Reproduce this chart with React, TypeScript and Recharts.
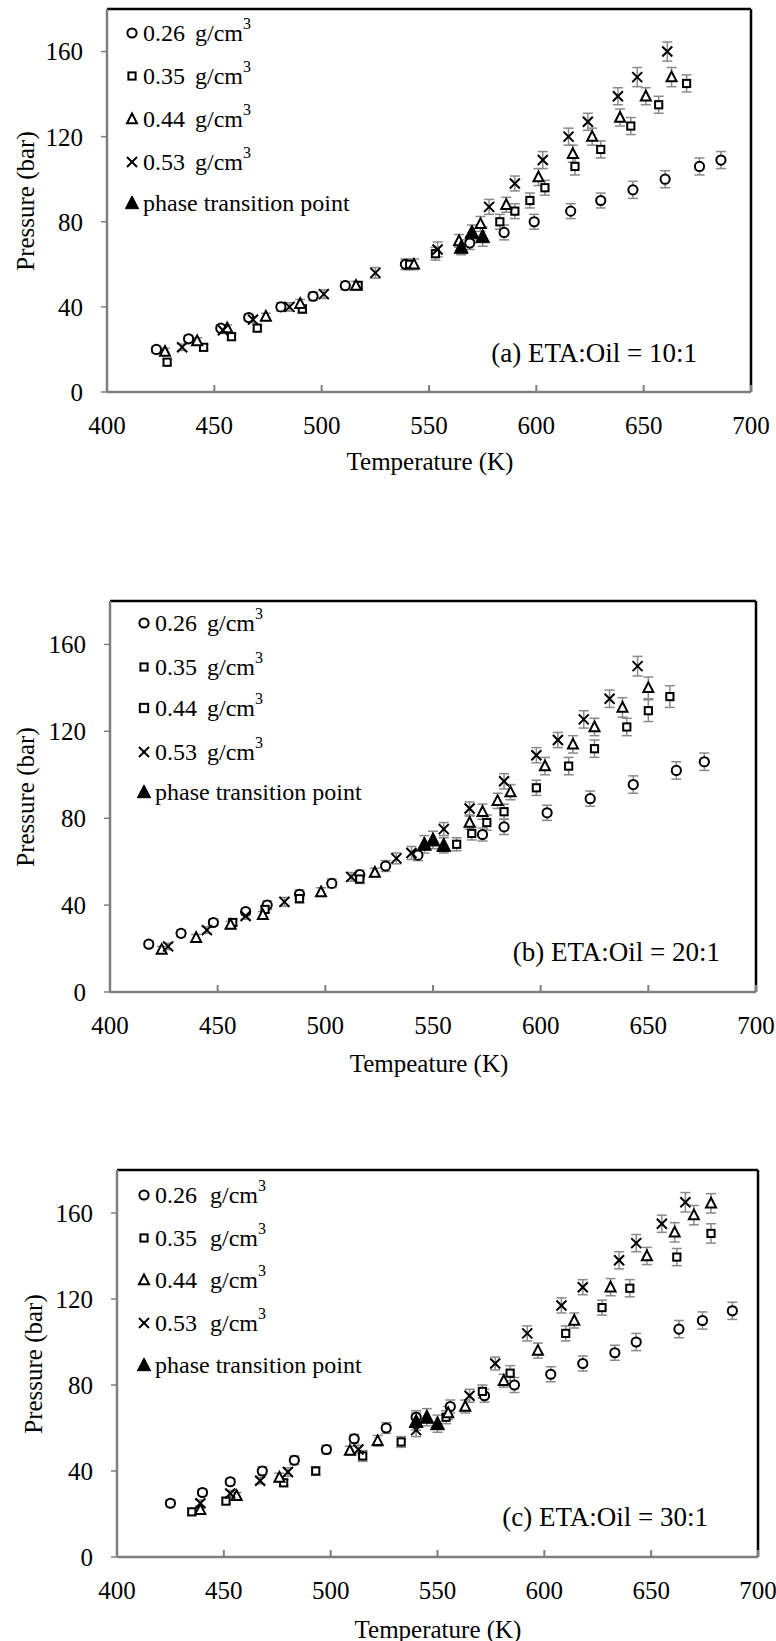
import { ScatterChart, Scatter, XAxis, YAxis, ErrorBar, ReferenceLine } from 'recharts';

const FONT = 'Liberation Serif';
const AXIS_GRAY = '#7f7f7f';
const ERR_GRAY = '#8a8a8a';

const X_TICKS = [400, 450, 500, 550, 600, 650, 700];
const Y_TICKS = [0, 40, 80, 120, 160];

const DENSITIES = ['0.26', '0.35', '0.44', '0.53'];

// [temperature K, pressure bar, error bar]
type Pt = [number, number, number];

// (a) ETA:Oil = 10:1
const A_026: Pt[] = [[423, 20, 1.5], [438, 25, 1.5], [453, 30, 1.5], [466, 35, 1.5], [481, 40, 2], [496, 45, 2], [511, 50, 2], [539, 60, 2.5], [569, 70, 3], [585, 75, 3.5], [599, 80, 3.5], [616, 85, 3.5], [630, 90, 3.5], [645, 95, 4], [660, 100, 4], [676, 106, 4], [686, 109, 4]];
const A_035: Pt[] = [[428, 14, 1.5], [445, 21, 1.5], [458, 26, 1.5], [470, 30, 1.5], [491, 39, 2], [517, 50, 2], [541, 60, 2.5], [553, 65, 3], [583, 80, 3.5], [590, 85, 3.5], [597, 90, 3.5], [604, 96, 3.5], [618, 106, 4], [630, 114, 4], [644, 125, 4], [657, 135, 4], [670, 145, 4]];
const A_044: Pt[] = [[427, 19, 1.5], [442, 24, 1.5], [456, 30, 1.5], [474, 35.5, 1.5], [490, 41.5, 2], [516, 50, 2], [543, 60, 2.5], [564, 71, 3], [574, 79, 3.5], [586, 88, 3.5], [601, 101, 4], [617, 112, 4], [626, 120, 4], [639, 129, 4], [651, 139, 4], [663, 148, 4.5]];
const A_053: Pt[] = [[435, 21, 1.5], [454, 29, 1.5], [468, 34, 1.5], [485, 40, 2], [501, 46, 2], [525, 56, 2.5], [554, 67, 3.5], [578, 87, 3.5], [590, 98, 3.5], [603, 109, 4], [615, 120, 4], [624, 127, 4], [638, 139, 4], [647, 148, 4.5], [661, 160, 4.5]];
const A_PT: Pt[] = [[565, 68, 3.5], [570, 75, 3.5], [575, 73, 4.5]];

// (b) ETA:Oil = 20:1
const B_026: Pt[] = [[418, 22, 1.5], [433, 27, 1.5], [448, 32, 1.5], [463, 37, 1.5], [473, 40, 2], [488, 45, 2], [503, 50, 2], [516, 54, 2], [528, 58, 2.5], [543, 63, 2.5], [573, 72.5, 3], [583, 76, 3.5], [603, 82.5, 3.5], [623, 89, 3.5], [643, 95.5, 4], [663, 102, 4], [676, 106, 4]];
const B_035: Pt[] = [[457, 32, 1.5], [472, 38, 1.5], [488, 43, 2], [516, 52, 2], [561, 68, 3], [568, 73, 3], [575, 78, 3.5], [583, 83, 3.5], [598, 94, 3.5], [613, 104, 4], [625, 112, 4], [640, 122, 4], [650, 129.5, 5], [660, 136, 5]];
const B_044: Pt[] = [[424, 19.5, 1.5], [440, 25, 1.5], [456, 31, 1.5], [471, 35.5, 1.5], [498, 46, 2], [523, 55, 2], [567, 78, 3], [573, 83, 3.5], [580, 88, 3.5], [586, 92, 3.5], [602, 104, 4], [615, 114, 4], [625, 122, 4], [638, 131, 4.5], [650, 140, 5]];
const B_053: Pt[] = [[427, 21, 1.5], [445, 28.5, 1.5], [463, 35, 1.5], [481, 41.5, 2], [512, 53, 2], [533, 61.5, 2.5], [540, 64, 3], [555, 75, 3], [567, 84.5, 3], [583, 97, 3.5], [598, 109, 3.5], [608, 116, 3.5], [620, 125.5, 4], [632, 135, 4], [645, 150, 4.5]];
const B_PT: Pt[] = [[546, 68, 4], [550, 70, 4], [555, 67.5, 3.5]];

// (c) ETA:Oil = 30:1
const C_026: Pt[] = [[425, 25, 1.5], [440, 30, 1.5], [453, 35, 1.5], [468, 40, 2], [483, 45, 2], [498, 50, 2], [511, 55, 2], [526, 60, 2.5], [540, 65, 3], [556, 70, 3], [572, 75, 3], [586, 80, 3.5], [603, 85, 3.5], [618, 90, 3.5], [633, 95, 3.5], [643, 100, 4], [663, 106, 4], [674, 110, 4], [688, 114.5, 4]];
const C_035: Pt[] = [[435, 21, 1.5], [451, 26, 1.5], [478, 34.5, 1.5], [493, 40, 2], [515, 47, 2.5], [533, 53.5, 2.5], [554, 65, 3], [571, 77, 3], [584, 85.5, 3.5], [610, 104, 3.5], [627, 116, 3.5], [640, 125, 4], [662, 139.5, 4], [678, 150.5, 4.5]];
const C_044: Pt[] = [[439, 22, 1.5], [456, 28.5, 1.5], [476, 37, 2], [509, 49.5, 2], [522, 54, 2.5], [555, 67, 3], [563, 70, 3], [581, 82, 3], [597, 96, 3.5], [614, 110, 3.5], [631, 125.5, 4], [648, 140, 4], [661, 151, 4.5], [670, 159, 4.5], [678, 164.5, 4.5]];
const C_053: Pt[] = [[439, 25, 1.5], [453, 29.5, 1.5], [467, 35.5, 1.5], [480, 39.5, 2], [513, 50, 2], [540, 59, 3], [565, 75, 3], [577, 90, 3], [592, 104, 3.5], [608, 117, 3.5], [618, 125.5, 3.5], [635, 138, 4], [643, 146, 4], [655, 155, 4], [666, 165, 4.5]];
const C_PT: Pt[] = [[540, 63, 4], [545, 65, 4], [550, 62, 4]];

type ShapeKind = 'circle' | 'square' | 'triangle' | 'cross' | 'filled';

function Marker({ kind, cx, cy, scale = 1 }: { kind: ShapeKind; cx: number; cy: number; scale?: number }) {
  const s = scale;
  const common = { fill: '#fff', stroke: '#000', strokeWidth: 2 };
  if (kind === 'circle') return <circle cx={cx} cy={cy} r={4.6 * s} {...common} />;
  if (kind === 'square') return <rect x={cx - 3.6 * s} y={cy - 3.6 * s} width={7.2 * s} height={7.2 * s} {...common} />;
  if (kind === 'triangle')
    return <path d={`M${cx},${cy - 5.5 * s}L${cx + 5 * s},${cy + 4.2 * s}L${cx - 5 * s},${cy + 4.2 * s}Z`} {...common} />;
  if (kind === 'cross') {
    const d = 5 * s;
    return (
      <g stroke="#000" strokeWidth={2}>
        <line x1={cx - d} y1={cy - d} x2={cx + d} y2={cy + d} />
        <line x1={cx - d} y1={cy + d} x2={cx + d} y2={cy - d} />
      </g>
    );
  }
  return <path d={`M${cx},${cy - 7.5 * s}L${cx + 7 * s},${cy + 6 * s}L${cx - 7 * s},${cy + 6 * s}Z`} fill="#000" stroke="#000" strokeWidth={1} />;
}

const shapeOf = (kind: ShapeKind) => (p: any) => <Marker kind={kind} cx={p.cx} cy={p.cy} />;

function XTick({ x, y, payload }: any) {
  return (
    <g>
      <line x1={x} y1={y} x2={x} y2={y - 7} stroke={AXIS_GRAY} strokeWidth={2} />
      <text x={x} y={y + 33} textAnchor="middle" dominantBaseline="central" fontSize={25} fontFamily={FONT} fill="#000">
        {payload.value}
      </text>
    </g>
  );
}

interface LegendRow {
  kind: ShapeKind;
  label: string;
  unit: boolean;
  scale?: number;
}

interface PanelCfg {
  id: string;
  top: number;
  height: number;
  left: number;
  right: number;
  plotTop: number;
  plotH: number;
  series: { kind: ShapeKind; pts: Pt[] }[];
  legend: LegendRow[];
  legendX: number;
  legendY: number[];
  numW: number;
  note: string;
  noteRight: number;
  noteY: number;
  xTitle: string;
  xTitleX: number;
  xTitleY: number;
  yTitleX: number;
}

const legendRows = (kinds: ShapeKind[], scales: number[] = []): LegendRow[] => [
  ...DENSITIES.map((d, i) => ({ kind: kinds[i], label: d, unit: true, scale: scales[i] ?? 1 })),
  { kind: 'filled', label: 'phase transition point', unit: false, scale: 0.95 },
];

const PANELS: PanelCfg[] = [
  {
    id: 'a', top: 0, height: 480, left: 107, right: 25, plotTop: 9, plotH: 383,
    series: [{ kind: 'circle', pts: A_026 }, { kind: 'square', pts: A_035 }, { kind: 'triangle', pts: A_044 }, { kind: 'cross', pts: A_053 }, { kind: 'filled', pts: A_PT }],
    legend: legendRows(['circle', 'square', 'triangle', 'cross']),
    legendX: 132, legendY: [33, 76, 119, 162, 203], numW: 52,
    note: '(a) ETA:Oil = 10:1', noteRight: 697, noteY: 353,
    xTitle: 'Temperature (K)', xTitleX: 430, xTitleY: 461, yTitleX: 25,
  },
  {
    id: 'b', top: 560, height: 520, left: 110, right: 20, plotTop: 41, plotH: 391,
    series: [{ kind: 'circle', pts: B_026 }, { kind: 'square', pts: B_035 }, { kind: 'triangle', pts: B_044 }, { kind: 'cross', pts: B_053 }, { kind: 'filled', pts: B_PT }],
    legend: legendRows(['circle', 'square', 'square', 'cross'], [1, 1, 1.15, 1]),
    legendX: 144, legendY: [623, 667, 708, 752, 792], numW: 52,
    note: '(b) ETA:Oil = 20:1', noteRight: 720, noteY: 952,
    xTitle: 'Tempeature (K)', xTitleX: 429, xTitleY: 1063, yTitleX: 25,
  },
  {
    id: 'c', top: 1130, height: 511, left: 117, right: 18, plotTop: 40, plotH: 387,
    series: [{ kind: 'circle', pts: C_026 }, { kind: 'square', pts: C_035 }, { kind: 'triangle', pts: C_044 }, { kind: 'cross', pts: C_053 }, { kind: 'filled', pts: C_PT }],
    legend: legendRows(['circle', 'square', 'triangle', 'cross']),
    legendX: 144, legendY: [1195, 1238, 1280, 1323, 1365], numW: 55,
    note: '(c) ETA:Oil = 30:1', noteRight: 708, noteY: 1517,
    xTitle: 'Temperature (K)', xTitleX: 438, xTitleY: 1629, yTitleX: 33,
  },
];

const textBase = { position: 'absolute' as const, fontFamily: FONT, color: '#000', lineHeight: 1, whiteSpace: 'nowrap' as const };

function Panel({ cfg }: { cfg: PanelCfg }) {
  const xAxisH = cfg.height - cfg.plotTop - cfg.plotH;
  const yMid = cfg.plotTop + cfg.plotH / 2;
  return (
    <div style={{ position: 'absolute', left: 0, top: cfg.top, width: 776, height: cfg.height }}>
      <ScatterChart width={776} height={cfg.height} margin={{ top: cfg.plotTop, right: cfg.right, bottom: 0, left: 0 }}>
        <XAxis
          type="number"
          dataKey="T"
          domain={[400, 700]}
          ticks={X_TICKS}
          interval={0}
          height={xAxisH}
          tickSize={0}
          tickMargin={0}
          tickLine={false}
          tick={<XTick />}
          axisLine={{ stroke: AXIS_GRAY, strokeWidth: 2.5 }}
        />
        <YAxis
          type="number"
          dataKey="P"
          domain={[0, 180]}
          ticks={Y_TICKS}
          interval={0}
          width={cfg.left}
          tickSize={6}
          tickMargin={18}
          tick={{ fill: '#000', fontSize: 25, fontFamily: FONT }}
          tickLine={{ stroke: AXIS_GRAY, strokeWidth: 1.5 }}
          axisLine={{ stroke: AXIS_GRAY, strokeWidth: 2.5 }}
        />
        <ReferenceLine y={180} stroke="#000" strokeWidth={2.5} />
        <ReferenceLine x={700} stroke="#000" strokeWidth={2.5} />
        {cfg.series.map((s, i) => (
          <Scatter
            key={`${cfg.id}-${i}`}
            data={s.pts.map(([T, P, err]) => ({ T, P, err }))}
            shape={shapeOf(s.kind)}
            isAnimationActive={false}
          >
            <ErrorBar dataKey="err" direction="y" width={5} stroke={ERR_GRAY} strokeWidth={1.5} />
          </Scatter>
        ))}
      </ScatterChart>

      {cfg.legend.map((row, i) => (
        <div key={row.label + i} style={{ ...textBase, left: cfg.legendX - 7, top: cfg.legendY[i] - cfg.top - 12, height: 24, display: 'flex', alignItems: 'center', fontSize: 24 }}>
          <svg width={14} height={16} style={{ overflow: 'visible' }}>
            <Marker kind={row.kind} cx={7} cy={8} scale={row.scale} />
          </svg>
          <span style={{ marginLeft: 4, display: 'inline-block', width: row.unit ? cfg.numW : undefined }}>{row.label}</span>
          {row.unit && (
            <span>
              g/cm<sup style={{ fontSize: 16, verticalAlign: 'top', position: 'relative', top: -5 }}>3</sup>
            </span>
          )}
        </div>
      ))}

      <div style={{ ...textBase, right: 776 - cfg.noteRight, top: cfg.noteY - cfg.top, transform: 'translateY(-50%)', fontSize: 27 }}>{cfg.note}</div>
      <div style={{ ...textBase, left: cfg.xTitleX, top: cfg.xTitleY - cfg.top, transform: 'translate(-50%, -50%)', fontSize: 25 }}>{cfg.xTitle}</div>
      <div style={{ ...textBase, left: cfg.yTitleX, top: yMid, transform: 'translate(-50%, -50%) rotate(-90deg)', fontSize: 25 }}>Pressure (bar)</div>
    </div>
  );
}

export default function App() {
  return (
    <div style={{ position: 'absolute', left: 0, top: 0, width: 776, height: 1641, background: '#fff' }}>
      {PANELS.map((p) => (
        <Panel key={p.id} cfg={p} />
      ))}
    </div>
  );
}
